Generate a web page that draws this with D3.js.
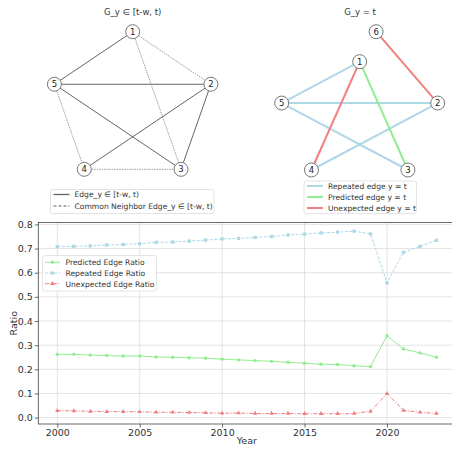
<!DOCTYPE html>
<html>
<head>
<meta charset="utf-8">
<script src="https://cdn.jsdelivr.net/npm/d3@7"></script>
<style>
  body { margin: 0; background: #fff; }
  text { font-family: "DejaVu Sans", sans-serif; fill: #333; }
</style>
</head>
<body>
<div id="chart"></div>
<script>
// ---- data ----
let years = d3.range(2000, 2024)
let predicted = [0.262, 0.262, 0.259, 0.257, 0.255, 0.255, 0.251, 0.250, 0.248, 0.246, 0.242, 0.239,
  0.236, 0.233, 0.229, 0.225, 0.221, 0.220, 0.215, 0.211, 0.339, 0.284, 0.268, 0.250]
let repeated = [0.708, 0.709, 0.711, 0.715, 0.717, 0.720, 0.726, 0.727, 0.731, 0.735, 0.740, 0.742,
  0.746, 0.750, 0.756, 0.760, 0.765, 0.768, 0.772, 0.761, 0.558, 0.684, 0.709, 0.734]
let unexpected = [0.029, 0.028, 0.026, 0.025, 0.025, 0.024, 0.022, 0.022, 0.021, 0.020, 0.018, 0.019,
  0.017, 0.017, 0.017, 0.016, 0.016, 0.016, 0.017, 0.026, 0.099, 0.030, 0.022, 0.017]
let yTicks = [0.0, 0.1, 0.2, 0.3, 0.4, 0.5, 0.6, 0.7, 0.8]
let xTicks = [2000, 2005, 2010, 2015, 2020]

// graph layouts (unit coordinates) and edges
let nodeIds = ['1', '2', '3', '4', '5', '6']
let nodePos = {
  '1': [0, 1], '2': [0.951, 0.309], '3': [0.588, -0.809],
  '4': [-0.588, -0.809], '5': [-0.951, 0.309], '6': [0.2, 1.5]
}
let pastEdges = [['1', '5'], ['5', '2'], ['5', '3'], ['4', '2'], ['2', '3']]
let neighborEdges = [['1', '2'], ['1', '3'], ['5', '4'], ['4', '3']]
let repeatedEdges = [['1', '5'], ['5', '2'], ['5', '3'], ['4', '2']]
let predictedEdges = [['1', '3']]
let unexpectedEdges = [['1', '4'], ['6', '2']]

let W = 452, H = 449
let svg = d3.select('#chart').append('svg')
  .attr('width', W).attr('height', H)

let BLUE = '#add8e6', GREEN = '#90ee90', RED = '#f08080'

// ---- network panels ----
function drawGraph(opts) {
  let g = svg.append('g')
  let nodes = opts.nodes
  let x = d3.scaleLinear().domain([-0.951, 0.951]).range(opts.xr)
  let y = d3.scaleLinear().domain(opts.yd).range(opts.yr)

  g.append('text')
    .attr('x', opts.titleX).attr('y', 15)
    .attr('text-anchor', 'middle')
    .attr('font-size', 8.5)
    .text(opts.title)

  opts.edgeSets.forEach(es => {
    g.selectAll(null)
      .data(es.edges)
      .enter()
      .append('line')
      .attr('x1', d => x(nodePos[d[0]][0]))
      .attr('y1', d => y(nodePos[d[0]][1]))
      .attr('x2', d => x(nodePos[d[1]][0]))
      .attr('y2', d => y(nodePos[d[1]][1]))
      .attr('stroke', es.color)
      .attr('stroke-width', es.width)
      .attr('stroke-dasharray', es.dash)
      .attr('opacity', es.opacity)
  })

  let n = g.selectAll('.node')
    .data(nodes)
    .enter()
    .append('g')
    .attr('transform', d => `translate(${x(nodePos[d][0])}, ${y(nodePos[d][1])})`)
  n.append('circle').attr('r', 7).attr('fill', '#fff').attr('stroke', '#777').attr('stroke-width', 1)
  n.append('text').attr('text-anchor', 'middle').attr('dy', 3).attr('font-size', 8.5)
    .style('fill', '#222').text(d => d)

  // legend
  let lg = g.append('g')
  lg.append('rect')
    .attr('x', opts.legend.x).attr('y', opts.legend.y)
    .attr('width', opts.legend.w).attr('height', opts.legend.h)
    .attr('fill', '#fff').attr('stroke', '#e3e3e3').attr('rx', 2)
  opts.edgeSets.forEach((es, i) => {
    let ly = opts.legend.y + 5 + i * opts.legend.step
    lg.append('line')
      .attr('x1', opts.legend.x + 3).attr('x2', opts.legend.x + 19)
      .attr('y1', ly).attr('y2', ly)
      .attr('stroke', es.legendColor || es.color)
      .attr('stroke-width', es.legendWidth || es.width)
      .attr('stroke-dasharray', es.legendDash || es.dash)
      .attr('opacity', es.opacity)
    lg.append('text')
      .attr('x', opts.legend.x + 24).attr('y', ly + 2.8)
      .attr('font-size', 7.6)
      .text(es.label)
  })
}

drawGraph({
  title: 'G_y \u2208 [t-w, t)',
  titleX: 132.7,
  nodes: nodeIds.slice(0, 5),
  xr: [54.4, 210.9],
  yd: [-0.809, 1],
  yr: [169.3, 31.7],
  edgeSets: [
    { edges: pastEdges, color: '#555', width: 1, dash: null, opacity: 0.9,
      label: 'Edge_y \u2208 [t-w, t)', legendWidth: 1.3 },
    { edges: neighborEdges, color: '#666', width: 0.8, dash: '1.5,1', opacity: 0.8,
      label: 'Common Neighbor Edge_y \u2208 [t-w, t)', legendColor: '#333', legendWidth: 1, legendDash: '3,2' }
  ],
  legend: { x: 50.5, y: 189.5, w: 163.5, h: 24, step: 11.5 }
})

drawGraph({
  title: 'G_y = t',
  titleX: 360,
  nodes: nodeIds,
  xr: [281.7, 437.7],
  yd: [-0.809, 1.5],
  yr: [170, 31.7],
  edgeSets: [
    { edges: repeatedEdges, color: BLUE, width: 2, dash: null, opacity: 1, label: 'Repeated edge y = t' },
    { edges: predictedEdges, color: GREEN, width: 2, dash: null, opacity: 1, label: 'Predicted edge y = t' },
    { edges: unexpectedEdges, color: RED, width: 2, dash: null, opacity: 1, label: 'Unexpected edge y = t' }
  ],
  legend: { x: 304, y: 181, w: 112.5, h: 32.5, step: 11 }
})

// ---- ratio chart ----
let pLeft = 38.3, pRight = 455.4, pTop = 222.5, pBottom = 424
let x = d3.scaleLinear().domain([1998.85, 2024.15]).range([pLeft, pRight])
let y = d3.scaleLinear().domain([-0.0265, 0.808]).range([pBottom, pTop])

let chart = svg.append('g')

// grid
chart.append('g').selectAll('line')
  .data(xTicks).enter().append('line')
  .attr('x1', d => x(d)).attr('x2', d => x(d))
  .attr('y1', pTop).attr('y2', pBottom)
  .attr('stroke', '#dcdcdc').attr('stroke-width', 0.8)
chart.append('g').selectAll('line')
  .data(yTicks).enter().append('line')
  .attr('x1', pLeft).attr('x2', pRight)
  .attr('y1', d => y(d)).attr('y2', d => y(d))
  .attr('stroke', '#dcdcdc').attr('stroke-width', 0.8)

// axes
let xAxis = chart.append('g')
  .attr('transform', `translate(0, ${pBottom})`)
  .call(d3.axisBottom(x).tickValues(xTicks).tickFormat(d3.format('d')).tickSize(3.5).tickPadding(2))
let yAxis = chart.append('g')
  .attr('transform', `translate(${pLeft}, 0)`)
  .call(d3.axisLeft(y).tickValues(yTicks).tickFormat(d3.format('.1f')).tickSize(3.5).tickPadding(2))
;[xAxis, yAxis].forEach(a => {
  a.select('.domain').remove()
  a.selectAll('.tick line').attr('stroke', '#444').attr('stroke-width', 0.8)
  a.selectAll('.tick text').attr('font-size', 9.5).attr('font-family', 'DejaVu Sans').style('fill', '#333')
})

chart.append('rect')
  .attr('x', pLeft).attr('y', pTop)
  .attr('width', pRight - pLeft).attr('height', pBottom - pTop)
  .attr('fill', 'none').attr('stroke', '#444').attr('stroke-width', 0.8)

chart.append('text')
  .attr('x', (pLeft + pRight) / 2).attr('y', 444)
  .attr('text-anchor', 'middle').attr('font-size', 9.5).text('Year')
chart.append('text')
  .attr('transform', `translate(16.5, ${(pTop + pBottom) / 2}) rotate(-90)`)
  .attr('text-anchor', 'middle').attr('font-size', 9.5).text('Ratio')

let series = [
  { name: 'Predicted Edge Ratio', values: predicted, color: GREEN, dash: null, marker: d3.symbolCircle, size: 9 },
  { name: 'Repeated Edge Ratio', values: repeated, color: BLUE, dash: '3,1.5', marker: d3.symbolSquare, size: 11 },
  { name: 'Unexpected Edge Ratio', values: unexpected, color: RED, dash: '4,1.5,1,1.5', marker: d3.symbolTriangle, size: 9 }
]

let line = d3.line().x((d, i) => x(years[i])).y(d => y(d))

series.forEach(s => {
  chart.append('path')
    .datum(s.values)
    .attr('d', line)
    .attr('fill', 'none')
    .attr('stroke', s.color)
    .attr('stroke-width', 1)
    .attr('stroke-dasharray', s.dash)
  chart.append('g').selectAll('path')
    .data(s.values).enter().append('path')
    .attr('transform', (d, i) => `translate(${x(years[i])}, ${y(d)})`)
    .attr('d', d3.symbol().type(s.marker).size(s.size))
    .attr('fill', s.color)
})

// legend
let lg = chart.append('g')
lg.append('rect')
  .attr('x', 42.5).attr('y', 255.5).attr('width', 114).attr('height', 35.5)
  .attr('fill', '#fff').attr('fill-opacity', 0.85).attr('stroke', '#e3e3e3').attr('rx', 2)
series.forEach((s, i) => {
  let ly = 262.3 + i * 10.7
  lg.append('line')
    .attr('x1', 45).attr('x2', 60).attr('y1', ly).attr('y2', ly)
    .attr('stroke', s.color).attr('stroke-width', 1).attr('stroke-dasharray', s.dash)
  lg.append('path')
    .attr('transform', `translate(52.5, ${ly})`)
    .attr('d', d3.symbol().type(s.marker).size(s.size))
    .attr('fill', s.color)
  lg.append('text')
    .attr('x', 65.5).attr('y', ly + 2.8)
    .attr('font-size', 7.6)
    .text(s.name)
})
</script>
</body>
</html>
